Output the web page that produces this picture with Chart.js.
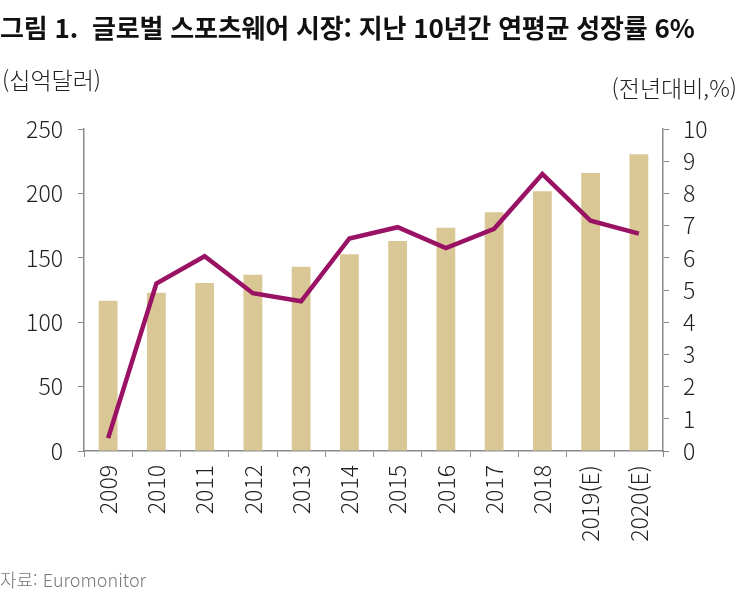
<!DOCTYPE html>
<html lang="ko">
<head>
  <meta charset="UTF-8" />
  <title>글로벌 스포츠웨어 시장</title>
  <script src="https://cdn.jsdelivr.net/npm/chart.js"></script>
  <style>
    body {
      margin: 0; padding: 0;
      background: #fff;
      font-family: "Noto Sans CJK KR", "Noto Sans", sans-serif;
      color: #222;
    }
    #wrap {
      position: relative;
      width: 743px; height: 599px;
      overflow: hidden;
    }
    #chartCanvas { position: absolute; left: 0; top: 0; }
    .txt { position: absolute; white-space: nowrap; }
    #title { left: 0; top: 8px; font-size: 26px; font-weight: bold; letter-spacing: -0.2px; color: #111; }
    #unitL { left: 2px; top: 62px; font-size: 23px; font-weight: 300; }
    #unitR { right: 6px; top: 70px; font-size: 23px; font-weight: 300; }
    #source { left: 0; top: 566px; font-size: 18px; font-weight: 300; color: #777; }
  </style>
</head>
<body>
  <div id="wrap">
    <canvas id="chartCanvas" width="743" height="599"></canvas>
    <div class="txt" id="title">그림 1.&nbsp; 글로벌 스포츠웨어 시장: 지난 10년간 연평균 성장률 6%</div>
    <div class="txt" id="unitL">(십억달러)</div>
    <div class="txt" id="unitR">(전년대비,%)</div>
    <div class="txt" id="source">자료: Euromonitor</div>
  </div>

  <script>
    // 데이터
    const years = ["2009", "2010", "2011", "2012", "2013", "2014", "2015", "2016", "2017", "2018", "2019(E)", "2020(E)"];
    const marketSize = [116.7, 122.9, 130.4, 136.9, 143.1, 152.7, 163.0, 173.4, 185.3, 201.6, 215.8, 230.4]; // 십억달러
    const growthRate = [0.4, 5.2, 6.05, 4.9, 4.65, 6.6, 6.95, 6.3, 6.9, 8.6, 7.15, 6.75]; // 전년대비 %

    const leftTicks = { min: 0, max: 250, step: 50 };
    const rightTicks = { min: 0, max: 10, step: 1 };

    const AXIS = "#8a8a8a";
    const tickFont = { family: "'Noto Sans CJK KR', 'Noto Sans', sans-serif", size: 23, weight: 300 };

    new Chart(document.getElementById("chartCanvas"), {
      type: "bar",
      data: {
        labels: years,
        datasets: [
          {
            type: "line",
            label: "성장률",
            data: growthRate,
            yAxisID: "y1",
            borderColor: "#9a1263",
            borderWidth: 4.5,
            pointRadius: 0,
            tension: 0,
            fill: false,
            order: 0
          },
          {
            type: "bar",
            label: "시장 규모",
            data: marketSize,
            yAxisID: "y",
            backgroundColor: "#d9c796",
            categoryPercentage: 1,
            barPercentage: 0.39,
            order: 1
          }
        ]
      },
      options: {
        responsive: false,
        animation: false,
        layout: { padding: { top: 129, left: 0, right: 0, bottom: 0 } },
        plugins: { legend: { display: false }, tooltip: { enabled: false } },
        scales: {
          x: {
            offset: true,
            grid: { offset: true, drawOnChartArea: false, tickLength: 6, color: AXIS },
            border: { color: AXIS, width: 1.5 },
            ticks: { color: "#222", font: tickFont, minRotation: 90, maxRotation: 90, padding: 8 },
            afterFit: s => { s.height = 148; }
          },
          y: {
            position: "left",
            min: leftTicks.min, max: leftTicks.max,
            grid: { drawOnChartArea: false, tickLength: 6, color: AXIS },
            border: { color: AXIS, width: 1.5 },
            ticks: { stepSize: leftTicks.step, color: "#222", font: tickFont, padding: 15 },
            afterFit: s => { s.width = 84; }
          },
          y1: {
            position: "right",
            min: rightTicks.min, max: rightTicks.max,
            grid: { drawOnChartArea: false, tickLength: 6, color: AXIS },
            border: { color: AXIS, width: 1.5 },
            ticks: { stepSize: rightTicks.step, color: "#222", font: tickFont, padding: 14 },
            afterFit: s => { s.width = 80; }
          }
        }
      }
    });
  </script>
</body>
</html>
